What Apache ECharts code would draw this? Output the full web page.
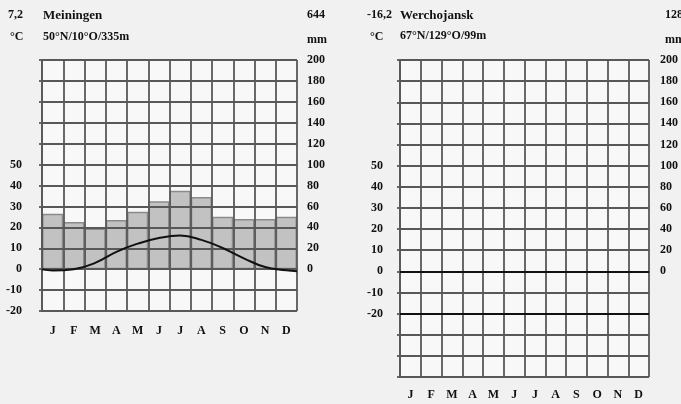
<!DOCTYPE html>
<html>
<head>
<meta charset="utf-8">
<script src="https://cdn.jsdelivr.net/npm/echarts@6/dist/echarts.min.js"></script>
<style>
html,body{margin:0;padding:0;background:#f1f1f1;}
#c{width:681px;height:404px;}
</style>
</head>
<body>
<div id="c"></div>
<script>
// ---- data ----
var months = ['J','F','M','A','M','J','J','A','S','O','N','D'];
// Meiningen
var meiPrecipMm = [53,45,39,47,55,65,75,69,50,48,48,50];
var meiTempC = [-0.6,0.0,3.0,8.3,12.2,14.9,16.1,14.0,10.1,5.2,1.0,-0.5];
var meiTempEdges = [-0.1,-1.0]; // curve value read at left and right plot edges
// Werchojansk (only the grid is printed; two emphasised grid lines)
var werThickLines = [0,-20];
// tick labels
var tempTicksLeft = [-20,-10,0,10,20,30,40,50];
var precipTicks = [0,20,40,60,80,100,120,140,160,180,200];

var FONT = 'Liberation Serif';
var GRID_COLOR = '#585858';
var GRID_W = 1.8;

function tempLine(){
  var d = [[0, meiTempEdges[0]]];
  for (var i = 0; i < meiTempC.length; i++) d.push([i + 0.5, meiTempC[i]]);
  d.push([12, meiTempEdges[1]]);
  return d;
}

function labelStyle(extra){
  var o = {fontFamily: FONT, fontWeight: 'bold', fontSize: 12, color: '#111'};
  for (var k in extra) o[k] = extra[k];
  return o;
}

function catAxis(gi, margin){
  return {
    type: 'category', gridIndex: gi, data: months, boundaryGap: true,
    axisLine: {show: false}, axisTick: {show: false}, splitLine: {show: false},
    axisLabel: labelStyle({margin: margin, interval: 0})
  };
}
function gridXAxis(gi){
  return {
    type: 'value', gridIndex: gi, min: 0, max: 12, interval: 1, z: 4,
    axisLabel: {show: false}, axisTick: {show: false},
    axisLine: {show: true, lineStyle: {color: GRID_COLOR, width: GRID_W}},
    splitLine: {show: true, lineStyle: {color: GRID_COLOR, width: GRID_W}}
  };
}
function leftTempAxis(gi, min, margin){
  return {
    type: 'value', gridIndex: gi, min: min, max: 100, interval: 10, z: 4,
    axisLine: {show: true, lineStyle: {color: GRID_COLOR, width: GRID_W}},
    axisTick: {show: true, length: 3, lineStyle: {color: GRID_COLOR, width: GRID_W}},
    splitLine: {show: true, lineStyle: {color: GRID_COLOR, width: GRID_W}},
    axisLabel: labelStyle({margin: margin, formatter: function(v){
      return tempTicksLeft.indexOf(v) >= 0 ? String(v) : '';
    }})
  };
}
function rightMmAxis(gi, min, margin){
  return {
    type: 'value', gridIndex: gi, position: 'right', min: min, max: 200, interval: 20,
    axisLine: {show: false}, axisTick: {show: false}, splitLine: {show: false},
    axisLabel: labelStyle({margin: margin, formatter: function(v){
      return precipTicks.indexOf(v) >= 0 ? String(v) : '';
    }})
  };
}

function txt(x, y, s, size){
  return {type: 'text', left: x, top: y - 7, z: 50,
    style: {text: s, fontFamily: FONT, fontWeight: 'bold', fontSize: size || 12, fill: '#111'}};
}

var chart = echarts.init(document.getElementById('c'), null, {renderer: 'canvas'});
chart.setOption({
  backgroundColor: '#f1f1f1',
  animation: false,
  grid: [
    {left: 42, top: 60, width: 255, height: 251, show: true, backgroundColor: '#f8f8f8', borderWidth: 0},
    {left: 400, top: 60, width: 254, height: 317, show: true, backgroundColor: '#f8f8f8', borderWidth: 0}
  ],
  xAxis: [catAxis(0, 14), gridXAxis(0), catAxis(1, 12), gridXAxis(1)],
  yAxis: [leftTempAxis(0, -20, 20), rightMmAxis(0, -40, 10), leftTempAxis(1, -50, 17), rightMmAxis(1, -100, 11)],
  series: [
    {
      type: 'bar', xAxisIndex: 0, yAxisIndex: 1, data: meiPrecipMm,
      barWidth: '100%', barGap: '0%', z: 2,
      itemStyle: {color: '#c2c2c2', borderColor: '#8a8a8a', borderWidth: 1.5}
    },
    {
      type: 'line', xAxisIndex: 1, yAxisIndex: 0, data: tempLine(),
      smooth: 0.45, symbol: 'none', z: 10,
      lineStyle: {color: '#111', width: 2}
    },
    {
      type: 'line', xAxisIndex: 3, yAxisIndex: 2, data: [], symbol: 'none', z: 10,
      markLine: {
        silent: true, symbol: ['none', 'none'], label: {show: false},
        lineStyle: {color: '#111', width: 2.2, type: 'solid'},
        data: werThickLines.map(function(v){ return {yAxis: v}; })
      }
    }
  ],
  graphic: [
    txt(8, 16, '7,2'), txt(43, 16, 'Meiningen', 13), txt(307, 16, '644'),
    txt(10, 38, '°C'), txt(43, 38, '50°N/10°O/335m', 12), txt(307, 41, 'mm'),
    txt(367, 16, '-16,2'), txt(400, 16, 'Werchojansk', 13), txt(665, 16, '128'),
    txt(370, 38, '°C'), txt(400, 37, '67°N/129°O/99m', 12), txt(665, 41, 'mm')
  ]
});
</script>
</body>
</html>
